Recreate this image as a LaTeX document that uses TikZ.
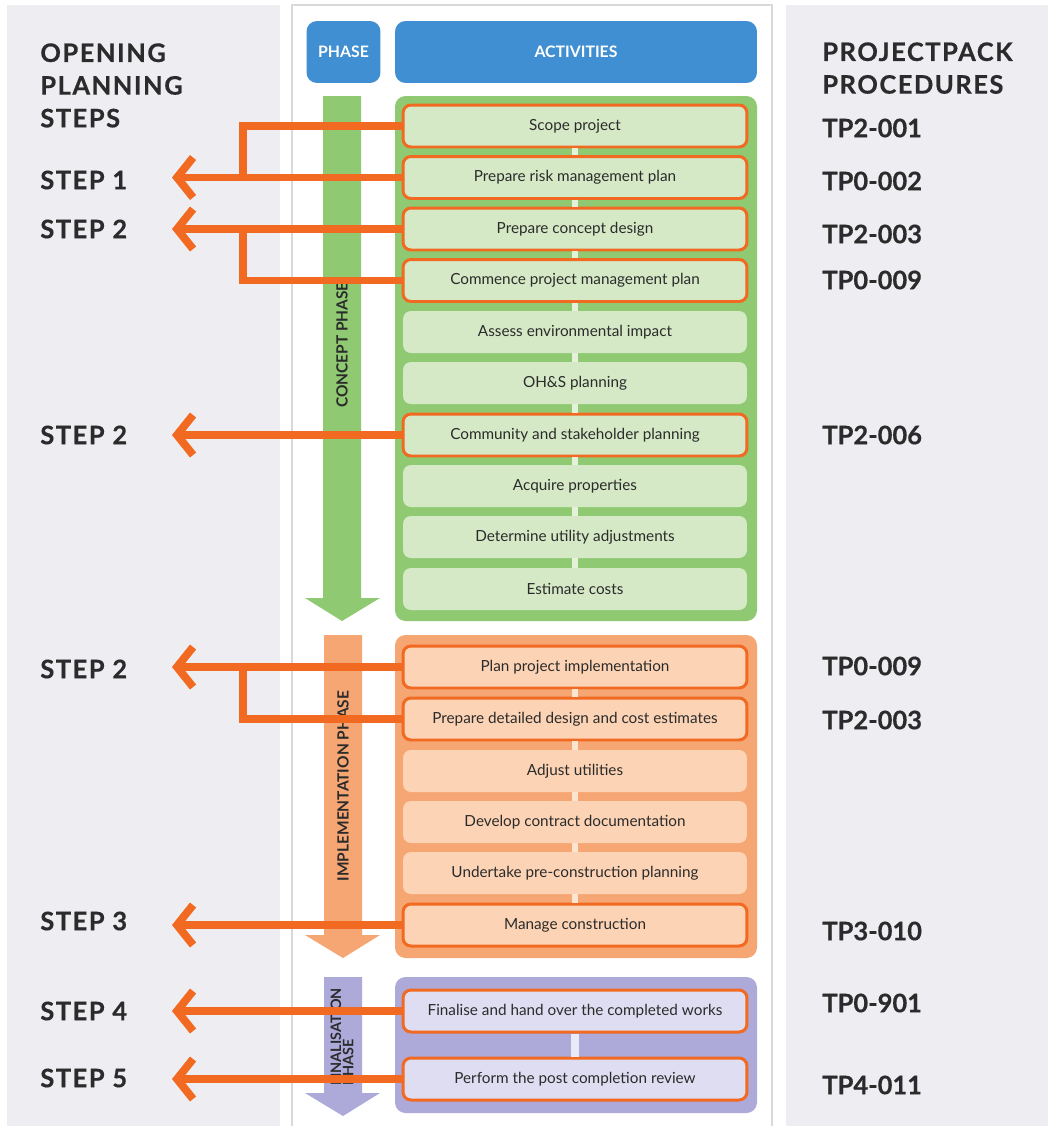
\documentclass[tikz,border=0pt]{standalone}
\usepackage{fontspec}
\setmainfont{Lato}
\newfontfamily\titlefont{Lato}[LetterSpace=6, BoldFeatures={FakeBold=0.5}]
\newfontfamily\codefont{Lato}[BoldFeatures={FakeBold=0.5}]
\usetikzlibrary{arrows.meta}

\definecolor{panel}{HTML}{EEEDF2}
\definecolor{frame}{HTML}{D9D9DC}
\definecolor{head}{HTML}{3F8FD2}
\definecolor{txt}{HTML}{2B2B2B}
\definecolor{linkor}{HTML}{F26A21}
\definecolor{conc}{HTML}{8FCA72}
\definecolor{concitem}{HTML}{D5E9C6}
\definecolor{concbar}{HTML}{E6F1DC}
\definecolor{impl}{HTML}{F6A673}
\definecolor{implitem}{HTML}{FCD4B5}
\definecolor{implbar}{HTML}{FDE4D0}
\definecolor{fin}{HTML}{ADA9D9}
\definecolor{finitem}{HTML}{DFDDF1}
\definecolor{finbar}{HTML}{EAE9F6}

\tikzset{
  item/.style={rounded corners=4.5pt, minimum width=6.88cm, minimum height=0.84cm,
    inner sep=0pt, font=\fontsize{8.7}{10}\selectfont, text=txt},
  hl/.style={draw=linkor, line width=1.7pt},
  link/.style={draw=linkor, line width=4.5pt, -{Straight Barb[length=0.32cm,width=0.8cm]}},
  branch/.style={draw=linkor, line width=4.5pt},
  bigtitle/.style={anchor=north west, inner sep=0pt, align=left,
    font=\titlefont\fontsize{14.5}{18.6}\selectfont\bfseries, text=txt},
  steplabel/.style={anchor=west, inner sep=0pt, font=\titlefont\fontsize{14.5}{17}\selectfont\bfseries, text=txt},
  codelabel/.style={anchor=west, inner sep=0pt, font=\codefont\fontsize{14.5}{17}\selectfont\bfseries, text=txt},
  phasetext/.style={rotate=90, inner sep=0pt, font=\fontsize{8.8}{8.8}\selectfont\bfseries, text=txt},
  headbox/.style={fill=head, rounded corners=6pt, text=white, inner sep=0pt,
    font=\fontsize{9}{10}\selectfont\bfseries}
}

\begin{document}
\begin{tikzpicture}[x=0.02cm,y=-0.02cm]
    \useasboundingbox (0,0) rectangle (1048,1126);
    \fill[white] (0,0) rectangle (1048,1126);
    \fill[panel] (7,5) rectangle (280,1126);
    \fill[panel] (786,5) rectangle (1048,1126);
    \draw[frame, line width=1pt, fill=white] (292,5) rectangle (772,1140);

    % headers
    \node[headbox, minimum width=1.48cm, minimum height=1.24cm] (phase) at (343.5,52) {PHASE};
    \node[headbox, minimum width=7.24cm, minimum height=1.24cm] (act) at (576,52) {ACTIVITIES};
    \node[bigtitle] (opening) at (40,43) {OPENING\\PLANNING\\STEPS};
    \node[bigtitle] (procs) at (822,42) {PROJECTPACK\\PROCEDURES};

    \begin{scope}
	\fill[conc] (323,96) -- (361,96) -- (361,598) -- (380,598) -- (342,621) -- (305,598) -- (323,598) -- cycle;
	\node[phasetext] (concph) at (342,345) {CONCEPT PHASE};
	\fill[conc, rounded corners=6pt] (395,96) rectangle (757,621);
	\node[item, fill=concitem, hl] (g1) at (575,126) {Scope project};
	\node[item, fill=concitem, hl] (g2) at (575,177.5) {Prepare risk management plan};
	\node[item, fill=concitem, hl] (g3) at (575,229) {Prepare concept design};
	\node[item, fill=concitem, hl] (g4) at (575,280.5) {Commence project management plan};
	\node[item, fill=concitem] (g5) at (575,332) {Assess environmental impact};
	\node[item, fill=concitem] (g6) at (575,383) {OH\&S planning};
	\node[item, fill=concitem, hl] (g7) at (575,435) {Community and stakeholder planning};
	\node[item, fill=concitem] (g8) at (575,486) {Acquire properties};
	\node[item, fill=concitem] (g9) at (575,537) {Determine utility adjustments};
	\node[item, fill=concitem] (g10) at (575,589) {Estimate costs};
	\foreach \a/\b in {g1/g2,g2/g3,g3/g4,g4/g5,g5/g6,g6/g7,g7/g8,g8/g9,g9/g10}
	    \draw[concbar, line width=3.5pt] (\a.south) -- (\b.north);
    \end{scope}

    \begin{scope}
	\fill[impl] (324,635) -- (362,635) -- (362,935) -- (380,935) -- (343,958) -- (305,935) -- (324,935) -- cycle;
	\node[phasetext] (implph) at (343,786) {IMPLEMENTATION PHASE};
	\fill[impl, rounded corners=6pt] (395,635) rectangle (757,958);
	\node[item, fill=implitem, hl] (o1) at (575,667) {Plan project implementation};
	\node[item, fill=implitem, hl] (o2) at (575,719) {Prepare detailed design and cost estimates};
	\node[item, fill=implitem] (o3) at (575,771) {Adjust utilities};
	\node[item, fill=implitem] (o4) at (575,822) {Develop contract documentation};
	\node[item, fill=implitem] (o5) at (575,873) {Undertake pre-construction planning};
	\node[item, fill=implitem, hl] (o6) at (575,925) {Manage construction};
	\foreach \a/\b in {o1/o2,o2/o3,o3/o4,o4/o5,o5/o6}
	    \draw[implbar, line width=3.5pt] (\a.south) -- (\b.north);
    \end{scope}

    \begin{scope}
	\fill[fin] (324,977) -- (362,977) -- (362,1093) -- (380,1093) -- (343,1116) -- (305,1093) -- (324,1093) -- cycle;
	\node[phasetext, align=left, font=\fontsize{8.2}{7}\selectfont\bfseries] (finph) at (342,1037) {FINALISATION\\PHASE};
	\fill[fin, rounded corners=6pt] (395,977) rectangle (757,1113);
	\node[item, fill=finitem, hl] (p1) at (575,1011) {Finalise and hand over the completed works};
	\node[item, fill=finitem, hl] (p2) at (575,1079) {Perform the post completion review};
	\draw[finbar, line width=5pt] (p1.south) -- (p2.north);
    \end{scope}

    % steps on the left
    \node[steplabel] (s1) at (40,180) {STEP 1};
    \node[steplabel] (s2) at (40,229) {STEP 2};
    \node[steplabel] (s3) at (40,435) {STEP 2};
    \node[steplabel] (s4) at (40,669) {STEP 2};
    \node[steplabel] (s5) at (40,921) {STEP 3};
    \node[steplabel] (s6) at (40,1011) {STEP 4};
    \node[steplabel] (s7) at (40,1078) {STEP 5};

    \coordinate (t1) at (172,177.5);
    \coordinate (t2) at (172,229);
    \coordinate (t3) at (172,435);
    \coordinate (t4) at (172,667);
    \coordinate (t5) at (172,925);
    \coordinate (t6) at (172,1011);
    \coordinate (t7) at (172,1079);
    \coordinate (j1) at (243,177.5);
    \coordinate (j2) at (243,229);
    \coordinate (j4) at (243,667);

    \draw[branch] (g1.west) -| (j1);
    \draw[branch] (g4.west) -| (j2);
    \draw[branch] (o2.west) -| (j4);
    \draw[link] (g2.west) -- (t1);
    \draw[link] (g3.west) -- (t2);
    \draw[link] (g7.west) -- (t3);
    \draw[link] (o1.west) -- (t4);
    \draw[link] (o6.west) -- (t5);
    \draw[link] (p1.west) -- (t6);
    \draw[link] (p2.west) -- (t7);

    % procedures on the right
    \node[codelabel] (c1) at (822,128) {TP2-001};
    \node[codelabel] (c2) at (822,181) {TP0-002};
    \node[codelabel] (c3) at (822,234) {TP2-003};
    \node[codelabel] (c4) at (822,280) {TP0-009};
    \node[codelabel] (c5) at (822,435) {TP2-006};
    \node[codelabel] (c6) at (822,666) {TP0-009};
    \node[codelabel] (c7) at (822,720) {TP2-003};
    \node[codelabel] (c8) at (822,931) {TP3-010};
    \node[codelabel] (c9) at (822,1003) {TP0-901};
    \node[codelabel] (c10) at (822,1085) {TP4-011};
\end{tikzpicture}
\end{document}
